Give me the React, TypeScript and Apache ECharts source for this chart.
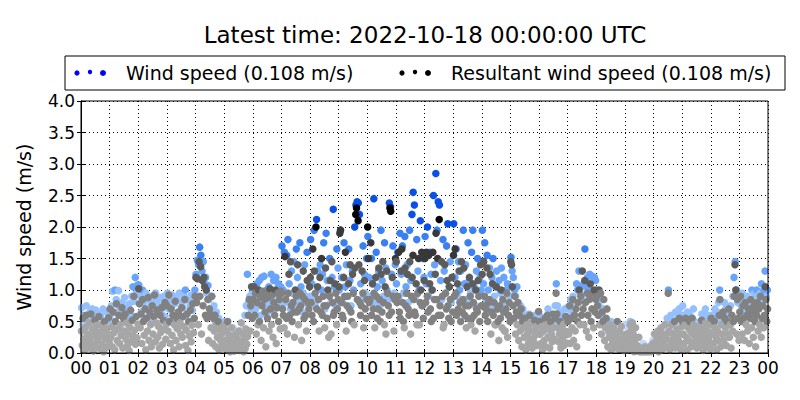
import React, { useEffect, useRef } from 'react';
import * as echarts from 'echarts';

const xTickLabels = ['00','01','02','03','04','05','06','07','08','09','10','11','12','13','14','15','16','17','18','19','20','21','22','23','00'];
const yTicks = [0, 0.5, 1, 1.5, 2, 2.5, 3, 3.5, 4];

// Wind speed (m/s), one row per hour, samples evenly spread over the hour
const windSpeed: number[][] = [
  [0.72,0.45,0.6,0.3,0.75,0.5,0.18,0.65,0.4,0.7,0.55,0.25,0.68,0.35,0.62,0.48,0.58,0.2,0.7,0.42,0.66,0.3,0.52,0.64],
  [0.6,0.75,0.98,0.5,1.0,0.85,0.4,0.99,0.7,0.62,0.8,0.35,0.88,0.55,0.72,0.45,0.78,0.6,0.9,1.05,0.82,1.2,0.95,1.08],
  [1.08,0.9,0.65,1.0,0.8,0.55,0.95,0.7,0.85,0.6,0.75,0.9,0.5,0.82,0.95,0.68,0.78,0.45,0.88,0.62,0.72,0.9,0.58,0.8],
  [0.95,0.7,0.85,0.5,0.92,0.6,0.78,0.4,0.88,0.65,0.95,0.55,0.8,0.72,0.9,1.0,0.62,0.84,0.5,0.76,0.92,0.68,0.86,1.0],
  [1.25,1.47,1.4,1.68,1.55,1.3,1.45,1.1,1.2,0.95,1.07,0.85,0.7,0.9,0.6,0.75,0.5,0.65,0.4,0.55,0.3,0.45,0.2,0.35],
  [0.5,0.3,0.45,0.2,0.35,0.1,0.25,0.4,0.15,0.3,0.05,0.2,0.35,0.12,0.28,0.08,0.4,0.6,0.75,1.25,0.8,0.9,0.7,0.95],
  [0.9,1.05,0.7,1.1,0.85,1.15,0.6,1.2,0.95,1.22,0.75,1.0,0.65,1.05,0.8,1.25,0.9,1.15,0.7,1.2,0.95,1.1,0.75,1.05],
  [1.7,1.0,1.6,0.8,1.55,1.8,1.1,0.7,1.3,0.95,1.45,0.75,1.65,1.2,0.85,1.75,1.05,0.65,0.95,1.4,0.8,1.6,1.15,0.9],
  [1.8,1.1,0.9,1.95,0.75,2.12,1.3,0.85,1.4,1.0,1.25,1.75,0.7,1.9,1.15,0.95,1.5,0.8,1.2,2.28,1.05,0.75,1.65,1.35],
  [1.0,1.95,1.2,0.8,1.75,1.05,1.4,0.9,1.65,1.15,0.75,1.3,1.0,2.0,2.35,2.4,2.38,2.2,1.1,0.85,1.7,1.25,0.95,1.5],
  [1.85,1.2,0.9,1.5,1.1,2.45,0.8,1.6,1.05,1.3,0.75,1.95,1.15,0.9,1.75,1.35,1.0,0.85,2.38,2.32,1.25,1.7,0.95,1.4],
  [1.1,1.6,0.85,1.9,1.25,1.7,0.95,1.85,1.05,1.4,0.8,1.95,1.15,2.2,2.55,2.35,0.9,1.8,1.3,1.0,2.1,0.75,1.5,1.2],
  [1.85,1.1,2.0,0.9,1.6,1.25,1.0,2.5,1.4,2.85,1.95,2.4,2.35,1.15,0.85,1.8,1.3,0.95,1.7,2.05,1.05,1.45,0.8,1.2],
  [2.05,1.2,1.65,0.9,1.45,1.0,1.3,0.8,1.95,1.1,1.4,0.85,1.75,1.15,0.95,1.6,1.95,1.05,0.75,1.3,1.5,0.9,1.2,1.0],
  [1.95,1.1,1.75,0.85,1.55,1.0,1.35,0.75,1.2,1.5,0.9,1.05,1.3,0.7,1.15,0.95,1.35,0.8,1.2,0.65,1.0,1.1,0.6,0.9],
  [1.52,1.3,1.2,1.0,0.9,1.05,0.8,0.65,0.75,0.55,0.7,0.45,0.6,0.5,0.4,0.62,0.35,0.55,0.48,0.3,0.6,0.42,0.52,0.38],
  [0.6,0.45,0.35,0.55,0.4,0.5,0.3,0.7,0.45,0.6,0.38,0.55,0.5,0.75,1.1,0.75,0.55,0.65,0.45,0.6,0.5,0.7,0.58,0.72],
  [0.7,0.55,0.85,0.65,0.9,0.6,0.8,1.1,1.0,1.3,0.95,1.05,0.85,1.1,1.65,1.05,1.2,0.95,1.25,1.0,1.22,0.9,1.2,1.15],
  [1.0,0.9,0.75,0.85,0.6,0.7,0.5,0.55,0.4,0.45,0.3,0.35,0.5,0.2,0.3,0.25,0.4,0.15,0.35,0.1,0.25,0.3,0.2,0.45],
  [0.3,0.2,0.4,0.15,0.5,0.35,0.2,0.1,0.25,0.05,0.1,0.03,0.05,0.02,0.08,0.15,0.04,0.1,0.02,0.06,0.03,0.12,0.05,0.2],
  [0.3,0.2,0.1,0.25,0.15,0.35,0.2,0.4,0.3,0.45,0.25,0.55,1.0,0.35,0.6,0.4,0.5,0.3,0.65,0.45,0.55,0.7,0.4,0.6],
  [0.75,0.6,0.55,0.5,0.65,0.45,0.6,0.4,0.55,0.7,0.5,0.35,0.45,0.3,0.4,0.5,0.62,0.38,0.55,0.7,0.48,0.6,0.42,0.52],
  [0.6,0.5,0.4,0.7,0.55,0.65,0.8,1.0,0.45,0.5,0.6,0.8,0.7,0.55,0.65,0.45,0.75,0.6,0.9,1.2,1.45,1.0,0.8,0.95],
  [0.85,0.75,0.95,0.6,0.8,0.7,0.9,0.65,0.85,0.75,1.0,0.8,0.95,0.7,1.0,0.9,0.8,0.95,1.1,0.85,1.0,1.3,0.9,1.0],
];

// Resultant wind speed (m/s), one row per hour
const resultantSpeed: number[][] = [
  [0.35,0.12,0.55,0.22,0.05,0.41,0.6,0.18,0.3,0.08,0.48,0.25,0.62,0.15,0.38,0.03,0.28,0.52,0.1,0.44,0.2,0.33,0.58,0.07,0.27,0.45,0.14,0.36,0.02,0.5,0.23,0.4,0.09,0.31,0.56,0.17],
  [0.7,0.25,0.42,0.1,0.65,0.32,0.05,0.5,0.78,0.2,0.38,0.6,0.15,0.45,0.28,0.72,0.08,0.55,0.35,0.62,0.22,0.48,0.12,0.3,0.04,0.41,0.68,0.18,0.52,0.27,0.9,0.36,0.14,0.58,0.24,0.46],
  [1.02,0.78,0.4,0.62,0.15,0.85,0.5,0.28,0.7,0.05,0.55,0.35,0.88,0.2,0.65,0.45,0.1,0.75,0.3,0.58,0.92,0.18,0.48,0.68,0.25,0.42,0.08,0.6,0.33,0.72,0.14,0.52,0.38,0.8,0.22,0.46],
  [0.75,0.35,0.92,0.5,0.15,0.7,0.28,0.6,0.05,0.45,0.82,0.2,0.55,0.38,0.65,0.1,0.48,0.3,0.72,0.25,0.58,0.42,0.85,0.12,0.36,0.62,0.04,0.5,0.27,0.68,0.18,0.44,0.78,0.32,0.55,0.9],
  [1.2,0.8,1.18,0.45,1.45,0.9,1.37,0.3,1.15,0.75,1.2,1.05,0.6,1.0,0.55,0.85,0.2,0.7,0.62,0.4,0.9,0.15,0.55,0.35,0.6,0.1,0.45,0.25,0.5,0.05,0.38,0.2,0.3,0.12,0.42,0.08],
  [0.45,0.2,0.35,0.05,0.5,0.12,0.28,0.02,0.18,0.4,0.08,0.25,0.03,0.15,0.3,0.06,0.22,0.1,0.35,0.04,0.18,0.48,0.12,0.3,0.02,0.2,0.07,0.38,0.14,0.26,0.6,0.85,0.35,0.75,1.05,0.55],
  [0.85,1.05,0.6,0.95,0.3,0.8,0.45,1.0,0.5,0.9,0.2,0.75,0.98,0.4,0.85,0.65,0.1,0.95,0.55,0.88,0.35,1.02,0.7,0.45,0.92,0.25,0.8,0.6,1.0,0.15,0.72,0.95,0.5,0.85,0.38,0.98],
  [0.95,0.7,0.6,0.4,1.53,0.85,0.55,0.3,0.95,1.25,0.6,1.45,0.75,0.5,0.8,0.65,0.25,1.0,0.9,0.65,1.4,0.45,0.7,0.95,0.75,0.2,0.9,1.3,0.55,0.85,0.6,0.35,1.15,0.8,0.7,1.05],
  [1.2,0.8,0.6,1.65,0.5,1.3,0.95,2.0,0.7,1.05,0.85,0.35,1.2,0.65,1.5,0.6,0.9,0.75,0.4,1.35,0.75,0.55,1.0,0.25,0.9,1.15,0.3,1.45,0.8,0.6,0.65,1.1,0.95,0.45,0.7,0.85],
  [1.05,1.9,1.95,0.8,0.6,0.55,1.2,0.9,1.6,0.35,0.75,0.9,1.1,0.7,1.4,0.65,0.5,1.25,0.95,0.45,1.35,2.2,2.3,0.85,2.1,1.4,0.8,0.6,0.75,1.3,0.95,0.4,1.15,0.7,0.55,0.85],
  [2.0,1.5,0.8,0.85,1.75,0.6,1.1,0.7,0.95,0.4,1.2,0.9,0.55,0.7,1.35,0.85,0.5,1.25,0.65,1.45,0.8,0.45,1.05,0.3,1.3,0.95,0.75,0.6,2.3,2.25,0.65,1.2,0.9,0.35,0.85,1.5],
  [1.45,0.8,0.9,1.6,0.65,0.55,1.3,1.65,0.8,0.5,0.4,1.35,0.75,0.95,1.25,0.7,0.6,1.45,0.3,0.9,1.2,1.55,0.85,0.65,0.6,1.1,0.45,0.95,1.5,0.45,0.8,1.0,1.6,0.75,0.55,1.15],
  [1.5,0.8,1.6,0.9,0.65,1.55,1.1,0.7,0.5,1.0,1.6,0.55,0.85,1.25,1.9,0.85,1.5,0.6,2.12,0.75,0.6,1.45,0.9,0.4,0.45,1.4,0.95,0.7,1.15,0.75,0.55,1.05,0.85,0.5,1.2,0.65],
  [1.55,0.9,1.65,0.95,0.6,1.1,0.7,1.3,0.8,0.5,1.45,0.65,0.85,1.35,0.6,0.75,0.4,1.05,0.55,0.75,1.2,0.9,0.45,0.55,1.1,0.8,0.6,0.35,1.0,0.7,0.65,1.15,0.9,0.5,1.4,0.75],
  [1.25,0.75,1.45,0.9,0.6,0.7,1.35,0.5,0.8,0.85,1.25,0.3,0.65,1.1,0.6,0.8,0.45,0.45,1.05,0.7,0.5,0.2,0.75,0.55,1.0,0.4,0.85,0.65,0.35,0.35,0.7,0.95,0.25,0.6,0.8,0.5],
  [1.45,1.4,1.05,0.75,0.55,0.9,0.3,0.65,0.45,0.8,0.2,0.6,0.35,0.7,0.1,0.5,0.4,0.25,0.55,0.05,0.45,0.3,0.15,0.38,0.6,0.22,0.48,0.08,0.35,0.18,0.52,0.28,0.42,0.12,0.32,0.66],
  [0.5,0.3,0.15,0.42,0.05,0.35,0.2,0.55,0.1,0.45,0.6,0.25,0.38,0.08,0.5,0.3,0.18,0.62,0.4,0.22,0.55,0.95,0.62,0.4,0.18,0.3,0.5,0.08,0.38,0.22,0.45,0.12,0.28,0.58,0.34,0.16],
  [0.5,0.3,0.75,0.15,0.55,0.4,0.85,0.2,0.6,0.35,0.7,0.1,0.5,0.8,1.0,0.45,0.9,0.6,1.3,0.7,0.45,1.15,0.8,0.35,0.95,0.6,0.25,0.85,1.1,0.5,0.7,0.95,0.4,1.0,0.65,0.85],
  [0.9,0.75,0.6,1.0,0.45,0.95,0.3,0.65,0.5,0.85,0.2,0.4,0.55,0.7,0.1,0.35,0.25,0.45,0.05,0.3,0.15,0.4,0.08,0.2,0.3,0.12,0.5,0.22,0.06,0.35,0.18,0.42,0.1,0.28,0.04,0.2],
  [0.2,0.1,0.3,0.05,0.15,0.25,0.45,0.35,0.1,0.48,0.3,0.02,0.2,0.4,0.03,0.12,0.05,0.25,0.02,0.08,0.03,0.02,0.05,0.02,0.04,0.1,0.02,0.06,0.03,0.02,0.05,0.08,0.02,0.12,0.04,0.15],
  [0.15,0.3,0.05,0.2,0.1,0.35,0.02,0.25,0.12,0.4,0.05,0.3,0.18,0.08,0.45,0.22,0.3,0.1,0.95,0.35,0.05,0.2,0.45,0.1,0.3,0.15,0.5,0.08,0.25,0.38,0.12,0.2,0.55,0.3,0.05,0.42],
  [0.5,0.3,0.15,0.45,0.55,0.25,0.05,0.4,0.2,0.5,0.35,0.1,0.55,0.3,0.45,0.18,0.4,0.25,0.08,0.35,0.2,0.42,0.12,0.3,0.52,0.22,0.04,0.38,0.15,0.48,0.28,0.1,0.44,0.2,0.33,0.06],
  [0.55,0.3,0.45,0.15,0.5,0.4,0.25,0.05,0.35,0.2,0.6,0.85,0.1,0.45,0.3,0.65,0.2,0.55,0.4,0.12,0.5,0.3,0.7,0.25,0.45,0.08,0.6,0.35,0.5,0.9,1.4,1.0,0.3,0.85,0.55,0.2],
  [0.65,0.9,0.5,0.3,0.75,0.55,0.2,0.8,0.45,0.6,0.35,0.7,0.15,0.55,0.85,0.4,0.65,0.25,0.75,0.5,0.1,0.6,0.8,0.35,0.7,0.45,0.9,0.25,0.55,0.75,0.4,0.6,1.05,0.85,0.5,0.7],
];

const titleText = 'Latest time: 2022-10-18 00:00:00 UTC';
const windLegend = 'Wind speed (0.108 m/s)';
const resultantLegend = 'Resultant wind speed (0.108 m/s)';
const yAxisName = 'Wind speed (m/s)';

const bluePieces = [
  { gte: 0, lt: 0.5, color: '#c0d9ff' },
  { gte: 0.5, lt: 1.0, color: '#94c0ff' },
  { gte: 1.0, lt: 1.5, color: '#68a4fb' },
  { gte: 1.5, lt: 2.0, color: '#3a80f2' },
  { gte: 2.0, color: '#0a4fe6' },
];
const grayPieces = [
  { gte: 0, lt: 0.5, color: '#a6a6a6' },
  { gte: 0.5, lt: 1.0, color: '#818181' },
  { gte: 1.0, lt: 1.5, color: '#5c5c5c' },
  { gte: 1.5, lt: 2.0, color: '#383838' },
  { gte: 2.0, color: '#050505' },
];

function toPoints(rows: number[][]): number[][] {
  const out: number[][] = [];
  rows.forEach((vals, h) => {
    vals.forEach((v, i) => out.push([h + (i + 0.5) / vals.length, v]));
  });
  return out;
}

const FONT = 'DejaVu Sans';

export default function App() {
  const ref = useRef<HTMLDivElement>(null);
  useEffect(() => {
    if (!ref.current) return;
    const chart = echarts.init(ref.current, null, { renderer: 'svg' });
    const gridL = 81, gridT = 101, gridR = 32, gridB = 47;
    const axisCommon = {
      type: 'value' as const,
      axisLine: { show: true, lineStyle: { color: '#000', width: 1 } },
      axisTick: { show: true, inside: true, length: 4, lineStyle: { color: '#000' } },
    };
    chart.setOption({
      animation: false,
      backgroundColor: '#fff',
      grid: { left: gridL, top: gridT, right: gridR, bottom: gridB, show: false },
      xAxis: [
        {
          ...axisCommon,
          min: 0, max: 24, interval: 1,
          axisLabel: {
            color: '#000', fontFamily: FONT, fontSize: 17, margin: 6,
            formatter: (v: number) => xTickLabels[Math.round(v)] ?? '',
          },
          splitLine: { show: true, lineStyle: { color: '#000', type: [1, 3], width: 1 } },
        },
        {
          ...axisCommon,
          position: 'top',
          min: 0, max: 24, interval: 1,
          axisLabel: { show: false },
          splitLine: { show: false },
        },
      ],
      yAxis: [
        {
          ...axisCommon,
          min: 0, max: 4, interval: 0.5,
          axisLabel: {
            color: '#000', fontFamily: FONT, fontSize: 17, margin: 6,
            formatter: (v: number) => {
              const t = yTicks.find((y) => Math.abs(y - v) < 1e-6);
              return t === undefined ? '' : t.toFixed(1);
            },
          },
          splitLine: { show: true, lineStyle: { color: '#000', type: [1, 3], width: 1 } },
          name: yAxisName,
          nameLocation: 'middle',
          nameGap: 48,
          nameRotate: 90,
          nameTextStyle: { color: '#000', fontFamily: FONT, fontSize: 19 },
        },
        {
          ...axisCommon,
          position: 'right',
          min: 0, max: 4, interval: 0.5,
          axisLabel: { show: false },
          splitLine: { show: false },
        },
      ],
      visualMap: [
        { type: 'piecewise', show: false, seriesIndex: 0, dimension: 1, pieces: bluePieces },
        { type: 'piecewise', show: false, seriesIndex: 1, dimension: 1, pieces: grayPieces },
      ],
      series: [
        {
          name: windLegend,
          type: 'scatter',
          data: toPoints(windSpeed),
          symbolSize: 7.5,
          itemStyle: { opacity: 1 },
          silent: true,
        },
        {
          name: resultantLegend,
          type: 'scatter',
          data: toPoints(resultantSpeed),
          symbolSize: 7.5,
          itemStyle: { opacity: 1 },
          silent: true,
        },
      ],
      graphic: [
        {
          type: 'text', x: 425, y: 35,
          style: { text: titleText, font: `23px ${FONT}`, fill: '#000', align: 'center', verticalAlign: 'middle' },
        },
        {
          type: 'rect', x: 65, y: 56,
          shape: { x: 0, y: 0, width: 720, height: 34 },
          style: { fill: '#fff', stroke: '#000', lineWidth: 1 },
        },
        { type: 'circle', shape: { cx: 77, cy: 73, r: 2.6 }, style: { fill: '#0000ff' } },
        { type: 'circle', shape: { cx: 90, cy: 72, r: 2.2 }, style: { fill: '#0000ff' } },
        { type: 'circle', shape: { cx: 103, cy: 73, r: 3 }, style: { fill: '#0000ff' } },
        {
          type: 'text', x: 126, y: 73,
          style: { text: windLegend, font: `19px ${FONT}`, fill: '#000', verticalAlign: 'middle' },
        },
        { type: 'circle', shape: { cx: 402, cy: 73, r: 2.6 }, style: { fill: '#000' } },
        { type: 'circle', shape: { cx: 415, cy: 72, r: 2.2 }, style: { fill: '#000' } },
        { type: 'circle', shape: { cx: 428, cy: 73, r: 3 }, style: { fill: '#000' } },
        {
          type: 'text', x: 451, y: 73,
          style: { text: resultantLegend, font: `19px ${FONT}`, fill: '#000', verticalAlign: 'middle' },
        },
        {
          type: 'rect', x: gridL, y: gridT, z: 100,
          shape: { x: 0, y: 0, width: 800 - gridL - gridR, height: 400 - gridT - gridB },
          style: { fill: 'none', stroke: '#000', lineWidth: 1 },
          silent: true,
        },
      ],
    });
    return () => chart.dispose();
  }, []);
  return <div ref={ref} style={{ position: 'fixed', left: 0, top: 0, width: 800, height: 400 }} />;
}
